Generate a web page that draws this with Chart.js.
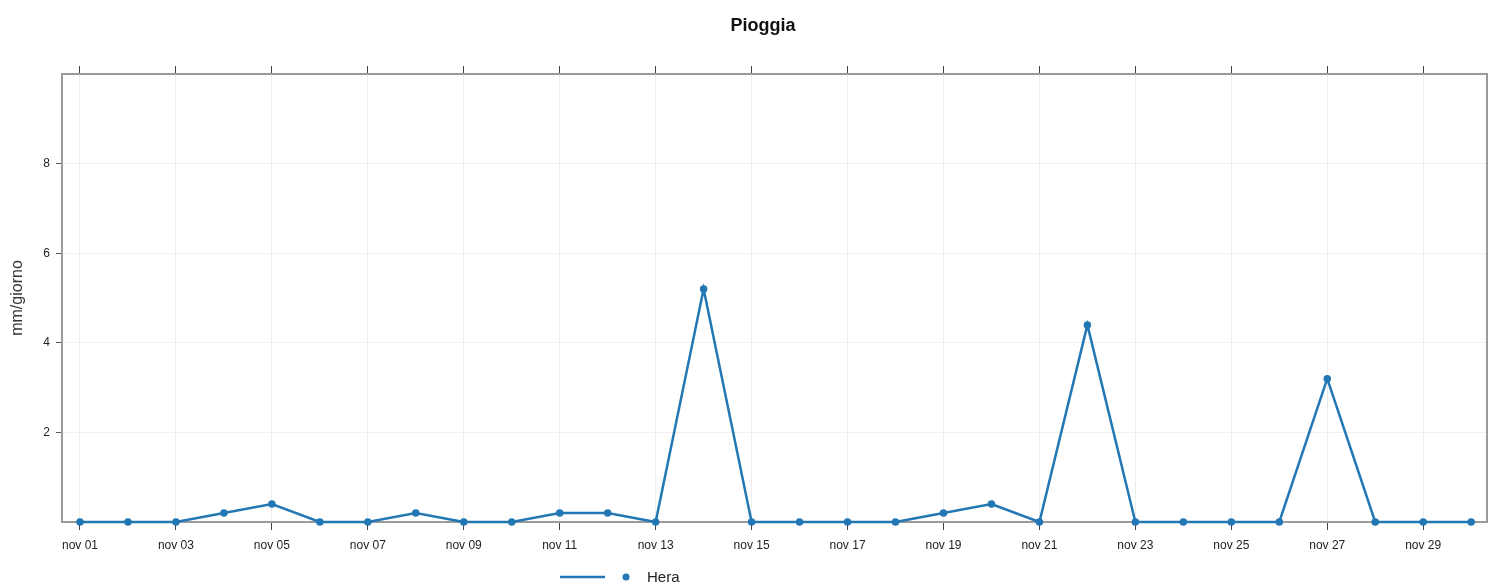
<!DOCTYPE html>
<html>
<head>
<meta charset="utf-8">
<script src="https://cdn.jsdelivr.net/npm/chart.js@4/dist/chart.umd.min.js"></script>
<style>
  html, body { margin: 0; padding: 0; background: #fff; }
  #wrap { width: 1489px; height: 585px; }
</style>
</head>
<body>
<div id="wrap"><canvas id="rain"></canvas></div>
<script>
// Dati pioggia novembre (mm/giorno)
const days = [1, 2, 3, 4, 5, 6, 7, 8, 9, 10, 11, 12, 13, 14, 15,
              16, 17, 18, 19, 20, 21, 22, 23, 24, 25, 26, 27, 28, 29, 30];
const hera = [0, 0, 0, 0.2, 0.4, 0, 0, 0.2, 0, 0, 0.2, 0.2, 0, 5.2, 0,
              0, 0, 0, 0.2, 0.4, 0, 4.4, 0, 0, 0, 0, 3.2, 0, 0, 0];
const xTicks = [1, 3, 5, 7, 9, 11, 13, 15, 17, 19, 21, 23, 25, 27, 29];
const yTicks = [2, 4, 6, 8];
const seriesName = 'Hera';
const chartTitle = 'Pioggia';
const blue = '#2277b4';

const fontFam = '"Liberation Sans", Arial, sans-serif';

function dayLabel(v) {
    return 'nov ' + String(v).padStart(2, '0');
}

// Titolo e legenda disegnati a mano: linea + punto + testo
const decorPlugin = {
    id: 'titleAndLegend',
    afterDraw(chart) {
        const ctx = chart.ctx;
        ctx.save();
        ctx.fillStyle = '#111';
        ctx.font = 'bold 18px ' + fontFam;
        ctx.textAlign = 'center';
        ctx.textBaseline = 'middle';
        ctx.fillText(chartTitle, 763, 26);

        const y = 577;
        ctx.strokeStyle = blue;
        ctx.lineWidth = 2.5;
        ctx.beginPath();
        ctx.moveTo(560, y);
        ctx.lineTo(605, y);
        ctx.stroke();
        ctx.fillStyle = blue;
        ctx.beginPath();
        ctx.arc(626, y, 3.5, 0, Math.PI * 2);
        ctx.fill();
        ctx.fillStyle = '#222';
        ctx.font = '15px ' + fontFam;
        ctx.textAlign = 'left';
        ctx.fillText(seriesName, 647, y + 1);
        ctx.restore();
    }
};

const axisBorder = { color: '#9a9a9a', width: 2 };

new Chart(document.getElementById('rain'), {
    type: 'line',
    data: {
        datasets: [{
            label: seriesName,
            data: days.map((d, i) => ({ x: d, y: hera[i] })),
            borderColor: blue,
            backgroundColor: blue,
            borderWidth: 2.5,
            pointRadius: 2.5,
            pointHoverRadius: 2.5,
            tension: 0,
            clip: false
        }]
    },
    options: {
        responsive: true,
        maintainAspectRatio: false,
        animation: false,
        layout: { padding: 0, autoPadding: false },
        plugins: {
            legend: { display: false },
            tooltip: { enabled: false },
            title: { display: false }
        },
        scales: {
            x: {
                type: 'linear',
                position: 'bottom',
                min: 0.625,
                max: 30.33,
                afterBuildTicks: s => { s.ticks = xTicks.map(v => ({ value: v })); },
                afterFit: s => { s.height = 63; },
                ticks: {
                    callback: v => dayLabel(v),
                    color: '#222',
                    font: { family: fontFam, size: 12 },
                    maxRotation: 0,
                    padding: 8
                },
                grid: { color: '#ececec', tickColor: '#444', tickLength: 8 },
                border: axisBorder
            },
            xTop: {
                type: 'linear',
                position: 'top',
                min: 0.625,
                max: 30.33,
                afterBuildTicks: s => { s.ticks = xTicks.map(v => ({ value: v })); },
                afterFit: s => { s.height = 74; },
                ticks: { display: false },
                grid: { drawOnChartArea: false, tickColor: '#444', tickLength: 8 },
                border: axisBorder
            },
            y: {
                position: 'left',
                min: 0,
                max: 10,
                afterBuildTicks: s => { s.ticks = yTicks.map(v => ({ value: v })); },
                afterFit: s => { s.width = 62; },
                title: {
                    display: true,
                    text: 'mm/giorno',
                    color: '#333',
                    font: { family: fontFam, size: 16 },
                    padding: { top: 8, bottom: 0 }
                },
                ticks: {
                    color: '#222',
                    font: { family: fontFam, size: 12 },
                    padding: 6
                },
                grid: { color: '#f0f0f0', tickColor: '#555', tickLength: 6 },
                border: axisBorder
            },
            yRight: {
                position: 'right',
                min: 0,
                max: 10,
                afterFit: s => { s.width = 2; },
                ticks: { display: false },
                grid: { drawOnChartArea: false, drawTicks: false },
                border: axisBorder
            }
        }
    },
    plugins: [decorPlugin]
});
</script>
</body>
</html>
